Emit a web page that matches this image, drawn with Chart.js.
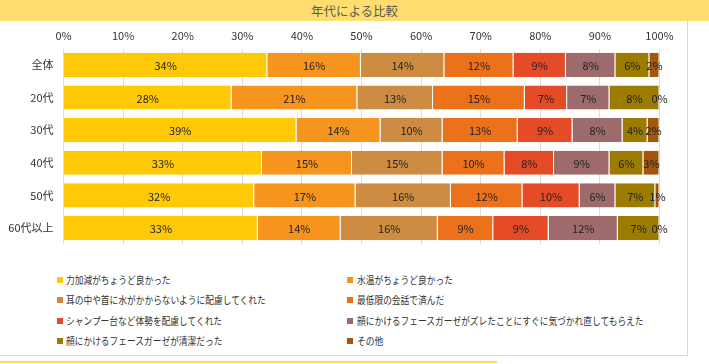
<!DOCTYPE html>
<html><head><meta charset="utf-8">
<script src="https://cdn.jsdelivr.net/npm/chart.js@4.4.0/dist/chart.umd.min.js"></script>
<style>
html,body{margin:0;padding:0;background:#fff;}
body{width:709px;height:364px;position:relative;overflow:hidden;font-family:"Noto Sans CJK JP","Noto Sans",sans-serif;}
#title{position:absolute;left:0;top:0;width:709px;height:21px;background:#FFDD6E;color:#5a5a5a;font-size:12.5px;line-height:21px;text-align:center;}
#box{position:absolute;left:0;top:21px;width:687px;height:334px;border-right:1px solid #d9d9d9;border-bottom:1px solid #d9d9d9;}
#bottomline{position:absolute;left:0;top:361px;width:497px;height:2px;background:#FFD966;}
#wrap{position:absolute;left:0;top:21px;width:687px;height:240px;}
.lg{position:absolute;font-size:10.5px;color:#333;line-height:14px;white-space:nowrap;transform:scaleX(0.83);transform-origin:0 50%;}
.mk{position:absolute;width:6px;height:6px;}
</style></head>
<body>
<div id="title">年代による比較</div>
<div id="box"></div>
<div id="bottomline"></div>
<div id="wrap"><canvas id="c" width="687" height="240"></canvas></div>
<div id="legend"></div>
<script>
const categories = ["全体","20代","30代","40代","50代","60代以上"];
const seriesNames = ["力加減がちょうど良かった","水温がちょうど良かった","耳の中や首に水がかからないように配慮してくれた","最低限の会話で済んだ","シャンプー台など体勢を配慮してくれた","顔にかけるフェースガーゼがズレたことにすぐに気づかれ直してもらえた","顔にかけるフェースガーゼが清潔だった","その他"];
const s1 = [34.2, 28.2, 39.1, 33.3, 32.0, 32.6];
const s2 = [15.7, 21.1, 14.1, 15.1, 17.0, 13.9];
const s3 = [14.0, 12.7, 10.4, 15.2, 16.0, 16.3];
const s4 = [11.6, 15.4, 12.6, 10.4, 12.0, 9.3];
const s5 = [8.8, 7.1, 9.2, 8.3, 9.6, 9.3];
const s6 = [8.3, 7.1, 8.4, 9.3, 6.0, 11.6];
const s7 = [5.7, 8.4, 4.2, 5.7, 6.7, 7.0];
const s8 = [1.7, 0.0, 2.0, 2.7, 0.7, 0.0];
const xTicks = [0,10,20,30,40,50,60,70,80,90,100];
const colors = ["#FFC907","#F7941D","#CD8C41","#EB711B","#E54B27","#9D6B6C","#9B7B00","#A3560F"];
const allSeries = [s1,s2,s3,s4,s5,s6,s7,s8];

const FONT = '"Noto Sans CJK JP","Noto Sans",sans-serif';

// legend (HTML)
const lg = document.getElementById('legend');
seriesNames.forEach((n,i)=>{
  const col = i%2, row = Math.floor(i/2);
  const top = 273 + row*20.3;
  const mk = document.createElement('div');
  mk.className='mk';
  mk.style.left = (col===0?57:347)+'px';
  mk.style.top = (top+4)+'px';
  mk.style.background = colors[i];
  lg.appendChild(mk);
  const d = document.createElement('div');
  d.className='lg';
  d.style.left = (col===0?66:357)+'px';
  d.style.top = top+'px';
  d.textContent = n;
  lg.appendChild(d);
});

const labelPlugin = {
  id:'segLabels',
  afterDatasetsDraw(chart){
    const ctx = chart.ctx;
    ctx.save();
    ctx.font = '11px '+FONT;
    ctx.fillStyle = '#222';
    ctx.textAlign='center';
    ctx.textBaseline='middle';
    chart.data.datasets.forEach((ds,di)=>{
      const meta = chart.getDatasetMeta(di);
      meta.data.forEach((bar,j)=>{
        const v = ds.data[j];
        const p = bar.getProps(['x','y','base'],true);
        const cx = (p.x + p.base)/2;
        ctx.fillText(Math.round(v)+'%', cx, p.y+1);
      });
    });
    ctx.restore();
  }
};

new Chart(document.getElementById('c'),{
  type:'bar',
  data:{
    labels:categories,
    datasets: allSeries.map((d,i)=>({
      label:seriesNames[i], data:d, backgroundColor:colors[i],
      borderColor:'rgba(255,255,255,0.45)', borderWidth:{left:0,right:1,top:0,bottom:0},
      borderSkipped:false,
      barPercentage:0.74, categoryPercentage:1.0
    }))
  },
  options:{
    indexAxis:'y',
    responsive:false,
    animation:false,
    layout:{padding:{left:0,right:27.5,top:0,bottom:1.5}},
    plugins:{legend:{display:false},tooltip:{enabled:false},title:{display:false}},
    scales:{
      x:{
        position:'top', stacked:true, min:0, max:100,
        afterBuildTicks(scale){ scale.ticks = xTicks.map(v=>({value:v})); },
        ticks:{callback:v=>v+'%', font:{family:FONT,size:11}, color:'#333', padding:6, maxRotation:0, autoSkip:false},
        grid:{color:'#dcdcdc', lineWidth:1, drawTicks:false},
        border:{display:false},
        afterFit(scale){ scale.height = 27.5; }
      },
      y:{
        stacked:true,
        ticks:{font:{family:FONT,size:11}, color:'#333', padding:10},
        grid:{display:false, drawTicks:false},
        border:{display:false},
        afterFit(scale){ scale.width = 63.5; }
      }
    }
  },
  plugins:[labelPlugin]
});
</script>
</body></html>
